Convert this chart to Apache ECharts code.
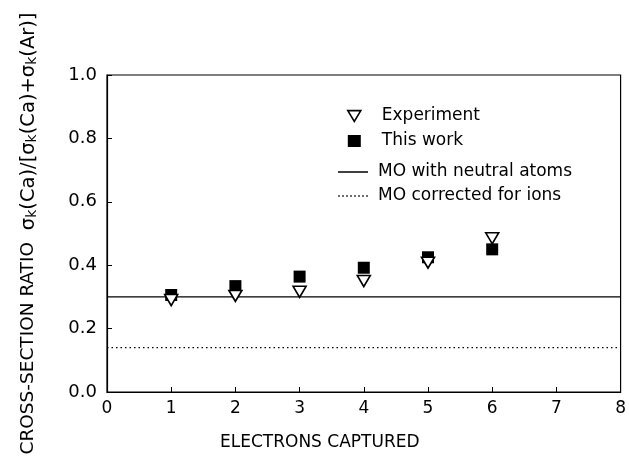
<!DOCTYPE html>
<html>
<head>
<meta charset="utf-8">
<script src="https://cdn.jsdelivr.net/npm/echarts@6/dist/echarts.min.js"></script>
<style>
  html, body { margin: 0; padding: 0; background: #fff; }
  #chart { width: 629px; height: 458px; }
</style>
</head>
<body>
<div id="chart"></div>
<script>
// values
const electrons = [1, 2, 3, 4, 5, 6];
const experiment = [0.29, 0.303, 0.316, 0.35, 0.408, 0.485];
const thisWork = [0.306, 0.334, 0.364, 0.392, 0.425, 0.45];
const moNeutral = 0.30;
const moIons = 0.14;
const xRange = [0, 8];

const font = "DejaVu Sans";
const chart = echarts.init(document.getElementById("chart"));

// legend icons: open down-triangle, solid and dotted line segments
const triDown = "path://M0,0 L12,0 L6,10 Z";
const solidSeg = "path://M0,0 L30,0 L30,1.5 L0,1.5 Z";
let dots = "";
for (let i = 0; i < 30; i += 4) dots += "M" + i + ",0 h1.5 v1.5 h-1.5 Z ";
const dottedSeg = "path://" + dots;

chart.setOption({
  backgroundColor: "#fff",
  animation: false,
  textStyle: { fontFamily: font, color: "#000" },
  grid: {
    left: 107, right: 8, top: 75, bottom: 66,
    show: true, borderColor: "#000", borderWidth: 1.2
  },
  legend: [
    {
      data: [
        { name: "Experiment", icon: triDown, itemStyle: { color: "#fff", borderColor: "#000", borderWidth: 1.6, opacity: 1 } },
        { name: "This work", icon: "rect", itemStyle: { color: "#000", opacity: 1 } }
      ],
      orient: "vertical",
      left: 342, top: 102,
      itemGap: 7, itemWidth: 13, itemHeight: 12,
      textStyle: { fontFamily: font, fontSize: 17, lineHeight: 18, color: "#000", padding: [0, 0, 0, 16] }
    },
    {
      data: [
        { name: "MO with neutral atoms", icon: solidSeg, itemStyle: { color: "#000" } },
        { name: "MO corrected for ions", icon: dottedSeg, itemStyle: { color: "#000" } }
      ],
      orient: "vertical",
      left: 333, top: 158,
      itemGap: 6, itemWidth: 30, itemHeight: 1.5,
      textStyle: { fontFamily: font, fontSize: 17, lineHeight: 18, color: "#000", padding: [0, 0, 0, 5] }
    }
  ],
  xAxis: {
    type: "value",
    min: xRange[0], max: xRange[1], interval: 1,
    axisLine: { lineStyle: { color: "#000", width: 1.2 } },
    axisTick: { inside: true, length: 5, lineStyle: { color: "#000" } },
    axisLabel: { fontFamily: font, fontSize: 17, color: "#000", margin: 8 },
    splitLine: { show: false }
  },
  yAxis: {
    type: "value",
    min: 0, max: 1, interval: 0.2,
    axisLine: { lineStyle: { color: "#000", width: 1.2 } },
    axisTick: { inside: true, length: 5, lineStyle: { color: "#000" } },
    axisLabel: {
      fontFamily: font, fontSize: 18, color: "#000", margin: 10,
      formatter: v => v.toFixed(1)
    },
    splitLine: { show: false },
    name: "CROSS-SECTION RATIO  {s|σ}{sub|k}{s|(Ca)/[σ}{sub|k}{s|(Ca)+σ}{sub|k}{s|(Ar)]}",
    nameLocation: "middle",
    nameGap: 68,
    nameTextStyle: {
      fontFamily: font, fontSize: 18.5, color: "#000",
      rich: {
        s: { fontFamily: font, fontSize: 19.5, color: "#000" },
        sub: { fontFamily: font, fontSize: 14, color: "#000", verticalAlign: "bottom", padding: [7, 0, 0, 0] }
      }
    }
  },
  graphic: [
    {
      type: "text",
      left: 220, top: 434,
      style: { text: "ELECTRONS CAPTURED", font: "17px " + font, fill: "#000" }
    }
  ],
  series: [
    {
      name: "Experiment",
      type: "scatter",
      symbol: "triangle",
      symbolRotate: 180,
      symbolSize: [13, 11],
      itemStyle: { color: "#fff", borderColor: "#000", borderWidth: 1.6, opacity: 1 },
      data: electrons.map((e, i) => [e, experiment[i]]),
      z: 3
    },
    {
      name: "This work",
      type: "scatter",
      symbol: "rect",
      symbolSize: 12,
      itemStyle: { color: "#000", opacity: 1 },
      data: electrons.map((e, i) => [e, thisWork[i]]),
      z: 2
    },
    {
      name: "MO with neutral atoms",
      type: "line",
      symbol: "none",
      lineStyle: { color: "#000", width: 1.2 },
      itemStyle: { color: "#000" },
      data: [[xRange[0], moNeutral], [xRange[1], moNeutral]]
    },
    {
      name: "MO corrected for ions",
      type: "line",
      symbol: "none",
      lineStyle: { color: "#000", width: 1.2, type: [1.5, 3] },
      itemStyle: { color: "#000" },
      data: [[xRange[0], moIons], [xRange[1], moIons]]
    }
  ]
});
</script>
</body>
</html>
